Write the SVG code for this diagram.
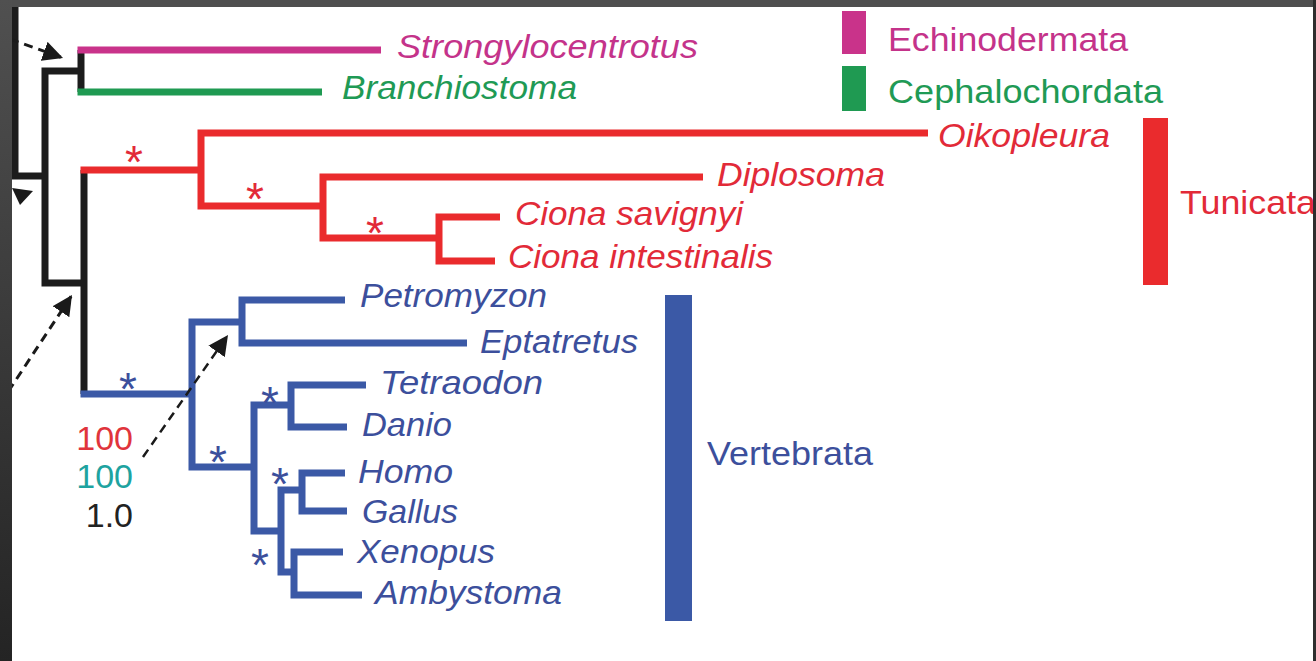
<svg xmlns="http://www.w3.org/2000/svg" width="1316" height="661" viewBox="0 0 1316 661">
<defs>
<linearGradient id="leftFrame" x1="0" y1="0" x2="0" y2="1">
<stop offset="0" stop-color="#505050"/>
<stop offset="1" stop-color="#242424"/>
</linearGradient>
<marker id="ah" markerUnits="userSpaceOnUse" markerWidth="22" markerHeight="20" refX="20" refY="10" orient="auto" viewBox="0 0 22 20">
<path d="M0,0 L20,10 L0,20 z" fill="#1a1a1a"/>
</marker>
<style>
.br{fill:none;stroke-width:7;stroke-linecap:butt;stroke-linejoin:miter}
.k{stroke:#1c1c1c}.m{stroke:#c9338a}.g{stroke:#1f9a52}.r{stroke:#ea2b2d}.b{stroke:#3b59a6}
.lab{font-family:"Liberation Sans",Arial,sans-serif;font-size:33px;font-style:italic}
.cl{font-family:"Liberation Sans",Arial,sans-serif;font-size:33px}
.ast{font-family:"Liberation Sans",Arial,sans-serif;font-size:46px;text-anchor:middle}
.num{font-family:"Liberation Sans",Arial,sans-serif;font-size:34px;text-anchor:end}
.dash{fill:none;stroke:#1a1a1a;stroke-width:3;stroke-dasharray:9 6}
.tm{fill:#c4338a}.tg{fill:#1f9a55}.tr{fill:#e22a38}.tb{fill:#3c4f9c}
</style>
</defs>
<rect x="0" y="0" width="1316" height="661" fill="#ffffff"/>

<g id="connectors">
<path class="br k" d="M15 0 V176 H45"/>
<path class="br k" d="M84 71 H45 V283 H84"/>
<path class="br k" d="M81 50 V92"/>
<path class="br k" d="M84 170 V394"/>
<path class="br m" d="M77.5 50 H381"/>
<path class="br g" d="M77.5 92 H322"/>
<path class="br r" d="M80.5 170 H201"/>
<path class="br r" d="M928 133 H201 V206 H323"/>
<path class="br r" d="M703 177 H323 V238 H439"/>
<path class="br r" d="M500 217 H439 V261 H495"/>
<path class="br b" d="M80.5 394 H192"/>
<path class="br b" d="M242 322 H192 V467 H254"/>
<path class="br b" d="M345 300 H242 V343 H467"/>
<path class="br b" d="M290 405 H254 V531 H281"/>
<path class="br b" d="M366 385 H291 V427 H347"/>
<path class="br b" d="M302 490 H281 V572 H294"/>
<path class="br b" d="M345 473 H302 V511 H347"/>
<path class="br b" d="M343 552 H294 V595 H362"/>
<path class="dash" d="M10 39 L63 58" marker-end="url(#ah)"/>
<path class="dash" d="M0 404 L72 295" marker-end="url(#ah)"/>
<path class="dash" d="M143 457 L228 335" marker-end="url(#ah)" style="stroke-width:2.5"/>
<polygon points="12,188 33,191 20,205" fill="#1a1a1a"/>
</g>

<g id="supports">
<text class="ast tr" x="134" y="178">*</text>
<text class="ast tr" x="255" y="215">*</text>
<text class="ast tr" x="375" y="249">*</text>
<text class="ast tb" x="128" y="405">*</text>
<text class="ast tb" x="218" y="478">*</text>
<text class="ast tb" x="270" y="419">*</text>
<text class="ast tb" x="280" y="500">*</text>
<text class="ast tb" x="260" y="581">*</text>
<text class="num" x="133" y="450" fill="#e0343c">100</text>
<text class="num" x="133" y="488" fill="#1ea3a0">100</text>
<text class="num" x="133" y="527" fill="#222222">1.0</text>
</g>

<g id="Strongylocentrotus"><text class="lab tm" x="397" y="58" textLength="301" lengthAdjust="spacingAndGlyphs">Strongylocentrotus</text></g>
<g id="Branchiostoma"><text class="lab tg" x="342" y="99" textLength="235" lengthAdjust="spacingAndGlyphs">Branchiostoma</text></g>
<g id="Oikopleura"><text class="lab tr" x="938" y="147" textLength="172" lengthAdjust="spacingAndGlyphs">Oikopleura</text></g>
<g id="Diplosoma"><text class="lab tr" x="717" y="186" textLength="168" lengthAdjust="spacingAndGlyphs">Diplosoma</text></g>
<g id="Ciona_savignyi"><text class="lab tr" x="515" y="225" textLength="228" lengthAdjust="spacingAndGlyphs">Ciona savignyi</text></g>
<g id="Ciona_intestinalis"><text class="lab tr" x="508" y="268" textLength="265" lengthAdjust="spacingAndGlyphs">Ciona intestinalis</text></g>
<g id="Petromyzon"><text class="lab tb" x="360" y="307" textLength="187" lengthAdjust="spacingAndGlyphs">Petromyzon</text></g>
<g id="Eptatretus"><text class="lab tb" x="480" y="353" textLength="158" lengthAdjust="spacingAndGlyphs">Eptatretus</text></g>
<g id="Tetraodon"><text class="lab tb" x="380" y="394" textLength="163" lengthAdjust="spacingAndGlyphs">Tetraodon</text></g>
<g id="Danio"><text class="lab tb" x="362" y="436" textLength="90" lengthAdjust="spacingAndGlyphs">Danio</text></g>
<g id="Homo"><text class="lab tb" x="358" y="483" textLength="95" lengthAdjust="spacingAndGlyphs">Homo</text></g>
<g id="Gallus"><text class="lab tb" x="362" y="523" textLength="96" lengthAdjust="spacingAndGlyphs">Gallus</text></g>
<g id="Xenopus"><text class="lab tb" x="357" y="563" textLength="138" lengthAdjust="spacingAndGlyphs">Xenopus</text></g>
<g id="Ambystoma"><text class="lab tb" x="375" y="604" textLength="187" lengthAdjust="spacingAndGlyphs">Ambystoma</text></g>

<g id="Echinodermata">
<rect x="842" y="11" width="24" height="43" fill="#c9338a"/>
<text class="cl tm" x="888" y="51" textLength="240" lengthAdjust="spacingAndGlyphs">Echinodermata</text>
</g>
<g id="Cephalochordata">
<rect x="842" y="66" width="24" height="45" fill="#1f9a52"/>
<text class="cl tg" x="888" y="103" textLength="275" lengthAdjust="spacingAndGlyphs">Cephalochordata</text>
</g>
<g id="Tunicata">
<rect x="1143" y="118" width="25" height="167" fill="#ea2b2d"/>
<text class="cl tr" x="1180" y="214" textLength="136" lengthAdjust="spacingAndGlyphs">Tunicata</text>
</g>
<g id="Vertebrata">
<rect x="665" y="295" width="27" height="326" fill="#3b59a6"/>
<text class="cl tb" x="707" y="465" textLength="166" lengthAdjust="spacingAndGlyphs">Vertebrata</text>
</g>

<g id="frame">
<rect x="0" y="0" width="1316" height="7" fill="#4f4f4f"/>
<rect x="0" y="0" width="12" height="661" fill="url(#leftFrame)"/>
<rect x="1313" y="0" width="3" height="661" fill="#2e2e2e"/>
</g>
</svg>
